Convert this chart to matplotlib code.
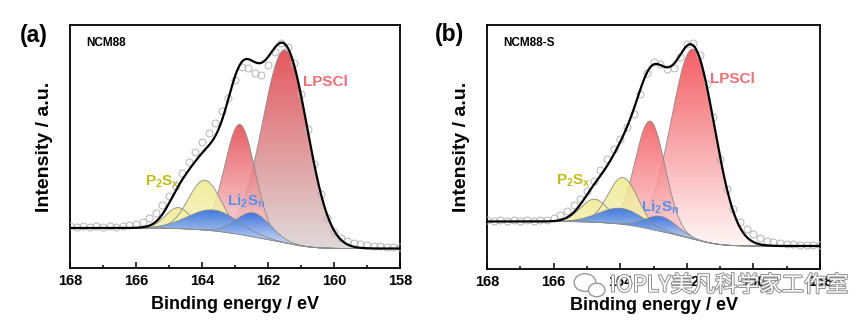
import numpy as np
import matplotlib
matplotlib.use('Agg')
import matplotlib.pyplot as plt
from matplotlib.colors import LinearSegmentedColormap
from matplotlib.ticker import MultipleLocator
from matplotlib.patches import Ellipse
import matplotlib.patheffects as pe

plt.rcParams['font.family'] = ['Liberation Sans', 'DejaVu Sans']
plt.rcParams['mathtext.fontset'] = 'custom'
plt.rcParams['mathtext.rm'] = 'Liberation Sans:bold'
plt.rcParams['mathtext.it'] = 'Liberation Sans:bold'
plt.rcParams['mathtext.bf'] = 'Liberation Sans:bold'

# measured S 2p points (binding energy, counts in arbitrary units)
energy = [168.0, 167.8, 167.6, 167.4, 167.2, 167.0, 166.8, 166.6, 166.4, 166.2,
          166.0, 165.8, 165.6, 165.4, 165.2, 165.0, 164.8, 164.6, 164.4, 164.2,
          164.0, 163.8, 163.6, 163.4, 163.2, 163.0, 162.8, 162.6, 162.4, 162.2,
          162.0, 161.8, 161.6, 161.4, 161.2, 161.0, 160.8, 160.6, 160.4, 160.2,
          160.0, 159.8, 159.6, 159.4, 159.2, 159.0, 158.8, 158.6, 158.4, 158.2, 158.0]

a_counts = [42, 41, 42, 41, 42, 41, 42, 41, 42, 43,
            44, 46, 50, 55, 63, 72, 82, 95, 106, 116,
            126, 135, 145, 157, 170, 188, 201, 200, 195, 193,
            203, 216, 225, 221, 205, 174, 139, 104, 74, 50,
            36, 30, 27, 25, 24, 23, 22, 22, 21, 21, 21]

b_counts = [49, 48, 49, 48, 49, 48, 49, 48, 49, 49,
            51, 54, 58, 64, 70, 78, 88, 99, 110, 120,
            130, 142, 155, 175, 196, 207, 205, 200, 201, 212,
            225, 226, 214, 185, 152, 110, 80, 60, 47, 40,
            35, 31, 28, 27, 26, 25, 25, 24, 24, 24, 24]

# fitted components: (center eV, height, sigma eV)
a_lpscl = [(161.48, 193, 0.68), (162.85, 110, 0.46)]
a_p2sx = [(164.72, 21, 0.38), (163.91, 50, 0.50)]
a_li2sn = [(163.66, 21, 0.75), (162.44, 24, 0.51)]
a_bg = (40.0, 19.5)   # background level at high / low BE side

b_lpscl = [(161.81, 190, 0.65), (163.10, 108, 0.45)]
b_p2sx = [(164.77, 23, 0.42), (163.92, 47, 0.45)]
b_li2sn = [(163.97, 16, 0.65), (162.77, 15, 0.47)]
b_bg = (47.5, 23.0)

grid = np.linspace(168, 158, 1001)


def gauss(p):
    c, h, s = p
    return h * np.exp(-0.5 * ((grid - c) / s) ** 2)


def shirley(peaks, levels):
    total = sum(gauss(p) for p in peaks)
    cum = np.cumsum(total[::-1])[::-1]
    cum = cum - cum[-1]
    hi, lo = levels
    return lo + (hi - lo) * cum / cum[0]


def grad_fill(ax, base, comp, top_col, bot_col, alpha, z):
    upper = base + comp
    poly = ax.fill_between(grid, base, upper, facecolor='none', edgecolor='none')
    path = poly.get_paths()[0]
    cmap = LinearSegmentedColormap.from_list('g', [bot_col, top_col])
    img = np.linspace(0, 1, 256).reshape(-1, 1)
    i = np.argmax(comp)
    y0 = base[i] - 4
    im = ax.imshow(img, cmap=cmap, aspect='auto', origin='lower', alpha=alpha,
                   extent=[158, 168, min(y0, base.min()), upper.max()], zorder=z,
                   interpolation='bilinear')
    im.set_clip_path(path, transform=ax.transData)
    ax.plot(grid, upper, color='#8a8a8a', lw=0.6, zorder=z + 0.1)


def panel(ax, counts, lpscl, p2sx, li2sn, bg_levels, red_cols, top):
    peaks = lpscl + p2sx + li2sn
    bg = shirley(peaks, bg_levels)
    (m_top, m_bot), (s_top, s_bot) = red_cols
    grad_fill(ax, bg, gauss(lpscl[0]), m_top, m_bot, 0.9, 2)
    grad_fill(ax, bg, gauss(lpscl[1]), s_top, s_bot, 0.85, 3)
    for p in p2sx:
        grad_fill(ax, bg, gauss(p), '#efe98a', '#f8f6d2', 0.85, 4)
    for p in li2sn:
        grad_fill(ax, bg, gauss(p), '#2e6fe2', '#e4ecfa', 0.9, 5)
    ax.plot(grid, bg, color='#8a8a8a', lw=0.6, zorder=5.5)
    env = bg + sum(gauss(p) for p in peaks)
    ax.plot(energy, counts, 'o', ms=5, mfc='none', mec='#b4b4b4', mew=0.7, zorder=6)
    ax.plot(grid, env, color='black', lw=1.6, zorder=7)

    ax.set_xlim(168, 158)
    ax.set_ylim(0, top)
    ax.set_yticks([])
    ax.xaxis.set_major_locator(MultipleLocator(2))
    ax.xaxis.set_minor_locator(MultipleLocator(1))
    ax.tick_params(axis='x', which='both', direction='in', width=1.1, pad=4)
    ax.tick_params(axis='x', which='major', length=4)
    ax.tick_params(axis='x', which='minor', length=2.2)
    for lbl in ax.get_xticklabels():
        lbl.set_fontweight('bold')
        lbl.set_fontsize(10.5)
    for sp in ax.spines.values():
        sp.set_linewidth(1.3)
    ax.set_xlabel('Binding energy / eV', fontsize=13, fontweight='bold', labelpad=6)
    ax.set_ylabel('Intensity / a.u.', fontsize=14, fontweight='bold', labelpad=12)


fig = plt.figure(figsize=(8.66, 3.24), dpi=100)
ax1 = fig.add_axes([0.0808, 0.1728, 0.381, 0.75])
ax2 = fig.add_axes([0.5624, 0.1698, 0.3845, 0.753])

panel(ax1, a_counts, a_lpscl, a_p2sx, a_li2sn, a_bg,
      [('#e0464d', '#dcd6d6'), ('#e4434b', '#fbe6e8')], 243)
panel(ax2, b_counts, b_lpscl, b_p2sx, b_li2sn, b_bg,
      [('#f24d54', '#fff6f6'), ('#f4555b', '#fcdfe0')], 244)

ax1.text(0.05, 0.925, 'NCM88', transform=ax1.transAxes, fontsize=8.5,
         fontweight='bold', va='center')
ax2.text(0.048, 0.925, 'NCM88-S', transform=ax2.transAxes, fontsize=8.5,
         fontweight='bold', va='center')

ax1.text(160.94, 186, 'LPSCl', color='#ea6f76', fontsize=11, fontweight='bold', va='center')
ax1.text(165.73, 86, r'P$_\mathrm{2}$S$_\mathrm{x}$', color='#c4bc1c', fontsize=11,
         fontweight='bold', va='center')
ax1.text(163.25, 67, r'Li$_\mathrm{2}$S$_\mathrm{n}$', color='#5b8ff0', fontsize=11,
         fontweight='bold', va='center')

ax2.text(161.31, 190, 'LPSCl', color='#ea6f76', fontsize=11, fontweight='bold', va='center')
ax2.text(165.92, 88, r'P$_\mathrm{2}$S$_\mathrm{x}$', color='#c4bc1c', fontsize=11,
         fontweight='bold', va='center')
ax2.text(163.37, 62, r'Li$_\mathrm{2}$S$_\mathrm{n}$', color='#5b8ff0', fontsize=11,
         fontweight='bold', va='center')

fig.text(0.023, 0.89, '(a)', fontsize=16.5, fontweight='bold', va='center')
fig.text(0.502, 0.895, '(b)', fontsize=16.5, fontweight='bold', va='center')

# watermark
fig.add_artist(Ellipse((0.6755, 0.128), 0.025, 0.055, transform=fig.transFigure,
                       facecolor='white', edgecolor='#999999', lw=1.0, zorder=10))
fig.add_artist(Ellipse((0.689, 0.105), 0.019, 0.042, transform=fig.transFigure,
                       facecolor='white', edgecolor='#999999', lw=1.0, zorder=11))
fig.text(0.704, 0.12, 'IOPLY美凡科学家工作室', fontsize=16,
         family=['Noto Sans CJK SC', 'DejaVu Sans'], color='white', va='center',
         path_effects=[pe.withStroke(linewidth=1.4, foreground='#8c8c8c')], zorder=12)

fig.savefig('out.png', dpi=100)
